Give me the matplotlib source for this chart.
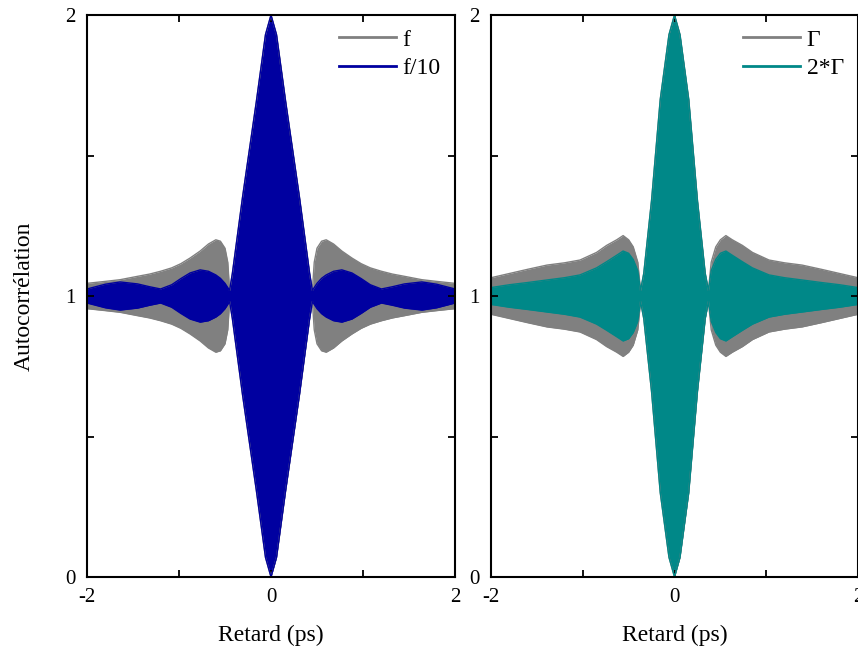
import numpy as np
import matplotlib
matplotlib.use("Agg")
import matplotlib.pyplot as plt

plt.rcParams['font.family'] = ['Liberation Serif', 'DejaVu Serif']

# envelope half-widths (deviation from 1), read at positive delays; curves are symmetric
delay_left = [0, 0.06, 0.16, 0.31, 0.42, 0.45, 0.47, 0.50, 0.55, 0.60, 0.68,
              0.77, 0.88, 0.98, 1.08, 1.20, 1.32, 1.45, 1.64, 1.80, 2.00]
amp_f = [1.0, 0.93, 0.69, 0.35, 0.08, 0.02, 0.12, 0.17, 0.195, 0.20, 0.185,
         0.16, 0.135, 0.115, 0.10, 0.088, 0.078, 0.07, 0.058, 0.052, 0.045]
amp_f10 = [1.0, 0.93, 0.69, 0.35, 0.08, 0.02, 0.03, 0.045, 0.063, 0.075, 0.088,
           0.093, 0.082, 0.062, 0.04, 0.025, 0.033, 0.043, 0.05, 0.042, 0.025]

delay_right = [0, 0.06, 0.155, 0.25, 0.335, 0.37, 0.40, 0.45, 0.50, 0.56, 0.63,
               0.74, 0.85, 1.03, 1.20, 1.39, 1.60, 1.80, 2.00]
amp_g = [1.0, 0.93, 0.70, 0.34, 0.08, 0.02, 0.12, 0.175, 0.20, 0.215, 0.20,
         0.18, 0.155, 0.128, 0.118, 0.11, 0.095, 0.08, 0.065]
amp_2g = [1.0, 0.93, 0.70, 0.34, 0.08, 0.02, 0.09, 0.13, 0.152, 0.16, 0.145,
          0.122, 0.10, 0.075, 0.065, 0.057, 0.048, 0.04, 0.03]

left_series = [("f", amp_f, "#808080"), ("f/10", amp_f10, "#0000a0")]
right_series = [("Γ", amp_g, "#808080"), ("2*Γ", amp_2g, "#008888")]

xticks = [-2, -1, 0, 1, 2]
xticklabels = ["-2", "", "0", "", "2"]
yticks = [0, 0.5, 1, 1.5, 2]
yticklabels = ["0", "", "1", "", "2"]


def mirror(d, a):
    d = np.asarray(d)
    a = np.asarray(a)
    return np.concatenate([-d[::-1], d[1:]]), np.concatenate([a[::-1], a[1:]])


def panel(ax, delays, series):
    for label, amp, color in series:
        x, a = mirror(delays, amp)
        ax.fill_between(x, 1 - a, 1 + a, color=color, lw=0)
        ax.plot(x, 1 + a, color=color, lw=1, label=label)
        ax.plot(x, 1 - a, color=color, lw=1)
    ax.set_xlim(-2, 2)
    ax.set_ylim(0, 2)
    ax.set_xticks(xticks, xticklabels)
    ax.set_yticks(yticks, yticklabels)
    ax.tick_params(direction='in', length=5, width=1.3, top=True, right=True,
                   labelsize=15, pad=8)
    for s in ax.spines.values():
        s.set_linewidth(1.5)
    ax.set_xlabel("Retard (ps)", fontsize=17, labelpad=13)
    leg = ax.legend(loc='upper right', frameon=False, fontsize=17, handlelength=2.4,
                    handletextpad=0.3, labelspacing=0.3, borderaxespad=0.2)
    for ln in leg.get_lines():
        ln.set_linewidth(2)


fig = plt.figure(figsize=(8.58, 6.52), dpi=100)
ax1 = fig.add_axes([87 / 858, 75 / 652, 368 / 858, 562 / 652])
ax2 = fig.add_axes([491 / 858, 75 / 652, 367 / 858, 562 / 652])

panel(ax1, delay_left, left_series)
panel(ax2, delay_right, right_series)
ax1.set_ylabel("Autocorrélation", fontsize=17, labelpad=22)

fig.savefig("out.png", dpi=100)
